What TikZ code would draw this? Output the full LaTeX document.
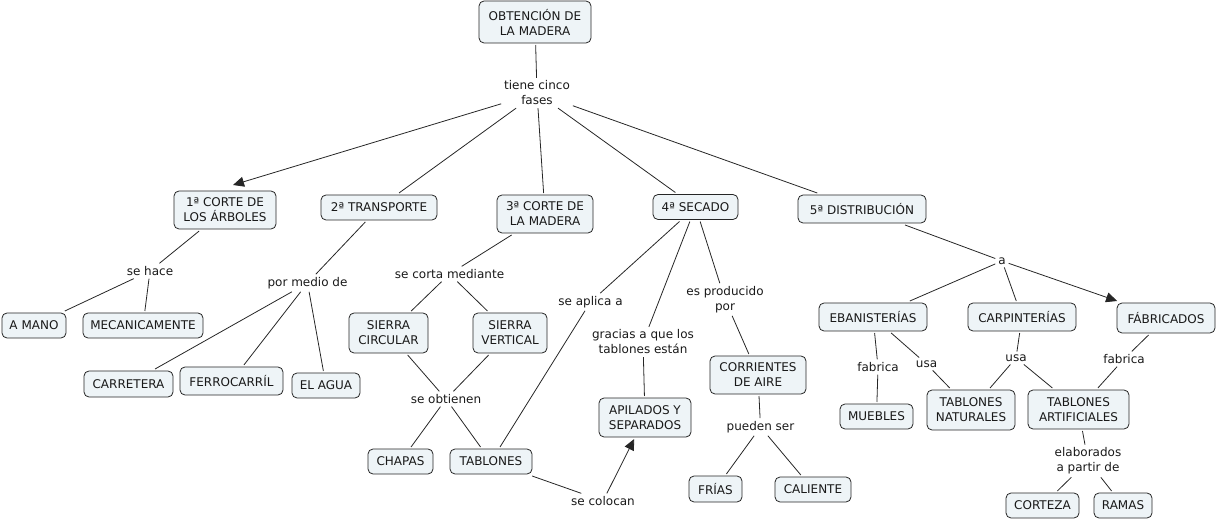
\documentclass[tikz,border=0pt]{standalone}
\usepackage{fontspec}
\setmainfont{DejaVu Sans}
\usetikzlibrary{arrows.meta}
\definecolor{boxfill}{RGB}{238,244,247}
\begin{document}
\begin{tikzpicture}[x=1pt,y=-1pt,
  every node/.style={font=\fontsize{12}{15}\selectfont, text=black!90},
  cbox/.style={draw=black!85, line width=0.8pt, fill=boxfill, rounded corners=5pt, inner sep=0pt, outer sep=2pt, align=center},
  lbl/.style={inner sep=2pt, outer sep=1pt, align=center},
  conn/.style={draw=black!85, line width=0.8pt},
  arr/.style={conn, -{Triangle[length=11pt,width=10pt]}}]
\useasboundingbox (0,0) rectangle (1216,521);
% concept boxes
\node[cbox, minimum width=112pt, minimum height=42pt] (n0) at (535,22) {OBTENCIÓN DE\\LA MADERA};
\node[cbox, minimum width=102pt, minimum height=38pt] (n1) at (225,210) {1ª CORTE DE\\LOS ÁRBOLES};
\node[cbox, minimum width=116pt, minimum height=25pt] (n2) at (379,207.5) {2ª TRANSPORTE};
\node[cbox, minimum width=96pt, minimum height=38pt] (n3) at (545,214) {3ª CORTE DE\\LA MADERA};
\node[cbox, minimum width=85pt, minimum height=25pt] (n4) at (695.5,207) {4ª SECADO};
\node[cbox, minimum width=128pt, minimum height=28pt] (n5) at (862,209) {5ª DISTRIBUCIÓN};
\node[cbox, minimum width=64pt, minimum height=25pt] (amano) at (34,325.5) {A MANO};
\node[cbox, minimum width=120pt, minimum height=25pt] (meca) at (143,325.5) {MECANICAMENTE};
\node[cbox, minimum width=89pt, minimum height=26pt] (carr) at (128.5,384) {CARRETERA};
\node[cbox, minimum width=103pt, minimum height=28pt] (ferro) at (231.5,381) {FERROCARRÍL};
\node[cbox, minimum width=68pt, minimum height=25pt] (agua) at (326,385.5) {EL AGUA};
\node[cbox, minimum width=79pt, minimum height=40pt] (scirc) at (388.5,333) {SIERRA\\CIRCULAR};
\node[cbox, minimum width=74pt, minimum height=40pt] (svert) at (510,333) {SIERRA\\VERTICAL};
\node[cbox, minimum width=65pt, minimum height=25pt] (chapas) at (400.5,461.5) {CHAPAS};
\node[cbox, minimum width=82pt, minimum height=25pt] (tabl) at (491,461.5) {TABLONES};
\node[cbox, minimum width=92pt, minimum height=39pt] (apil) at (645,417.5) {APILADOS Y\\SEPARADOS};
\node[cbox, minimum width=96pt, minimum height=38pt] (corr) at (758,375) {CORRIENTES\\DE AIRE};
\node[cbox, minimum width=53pt, minimum height=26pt] (frias) at (715.5,489) {FRÍAS};
\node[cbox, minimum width=76pt, minimum height=25pt] (cal) at (813,489.5) {CALIENTE};
\node[cbox, minimum width=108pt, minimum height=28pt] (eban) at (873,317) {EBANISTERÍAS};
\node[cbox, minimum width=108pt, minimum height=28pt] (carp) at (1022,317) {CARPINTERÍAS};
\node[cbox, minimum width=98pt, minimum height=30pt] (fabr) at (1166,318) {FÁBRICADOS};
\node[cbox, minimum width=73pt, minimum height=25pt] (mueb) at (876.5,416.5) {MUEBLES};
\node[cbox, minimum width=88pt, minimum height=40pt] (tnat) at (971,410) {TABLONES\\NATURALES};
\node[cbox, minimum width=101pt, minimum height=39pt] (tart) at (1078.5,409.5) {TABLONES\\ARTIFICIALES};
\node[cbox, minimum width=73pt, minimum height=25pt] (cort) at (1042.5,505.5) {CORTEZA};
\node[cbox, minimum width=58pt, minimum height=25pt] (ramas) at (1123,505.5) {RAMAS};
% linking phrases
\node[lbl] (l0) at (537,93) {tiene cinco\\fases};
\node[lbl] (l1) at (150,271) {se hace};
\node[lbl] (l2) at (307.5,283) {por medio de};
\node[lbl] (l3) at (449.5,274) {se corta mediante};
\node[lbl] (l4) at (446,399) {se obtienen};
\node[lbl] (l5) at (590.5,302) {se aplica a};
\node[lbl] (l6) at (643,342) {gracias a que los\\tablones están};
\node[lbl] (l7) at (725,299.5) {es producido\\por};
\node[lbl] (l8) at (603,501) {se colocan};
\node[lbl] (l9) at (760.5,427) {pueden ser};
\node[lbl] (l10) at (1002,261) {a};
\node[lbl] (l11) at (878,367) {fabrica};
\node[lbl] (l12) at (926.5,364) {usa};
\node[lbl] (l13) at (1016,358) {usa};
\node[lbl] (l14) at (1124,359) {fabrica};
\node[lbl] (l15) at (1088,461) {elaborados\\a partir de};
% connectors
\draw[conn] (n0) -- (l0);
\draw[arr] (l0) -- ([xshift=8pt,yshift=4pt]n1.north);
\draw[conn] (l0) -- (n2);
\draw[conn] (l0) -- (n3);
\draw[conn] (l0) -- (n4);
\draw[conn] (l0) -- (n5);
\draw[conn] (n1) -- (l1);
\draw[conn] (l1) -- (amano);
\draw[conn] (l1) -- (meca);
\draw[conn] (n2) -- (l2);
\draw[conn] (l2) -- (carr);
\draw[conn] (l2) -- (ferro);
\draw[conn] (l2) -- (agua);
\draw[conn] (n3) -- (l3);
\draw[conn] (l3) -- (scirc);
\draw[conn] (l3) -- (svert);
\draw[conn] (scirc) -- (l4);
\draw[conn] (svert) -- (l4);
\draw[conn] (l4) -- (chapas);
\draw[conn] (l4) -- (tabl);
\draw[conn] (n4) -- (l5);
\draw[conn] (l5) -- (tabl);
\draw[conn] (n4) -- (l6);
\draw[conn] (l6) -- (apil);
\draw[conn] (n4) -- (l7);
\draw[conn] (l7) -- (corr);
\draw[conn] (tabl) -- (l8);
\draw[arr] (l8) -- (apil);
\draw[conn] (corr) -- (l9);
\draw[conn] (l9) -- (frias);
\draw[conn] (l9) -- (cal);
\draw[conn] (n5) -- (l10);
\draw[conn] (l10) -- (eban);
\draw[conn] (l10) -- (carp);
\draw[arr] (l10) -- (fabr);
\draw[conn] (eban) -- (l11);
\draw[conn] (l11) -- (mueb);
\draw[conn] (eban) -- (l12);
\draw[conn] (l12) -- (tnat);
\draw[conn] (carp) -- (l13);
\draw[conn] (l13) -- (tnat);
\draw[conn] (l13) -- (tart);
\draw[conn] (fabr) -- (l14);
\draw[conn] (l14) -- (tart);
\draw[conn] (tart) -- (l15);
\draw[conn] (l15) -- (cort);
\draw[conn] (l15) -- (ramas);
\end{tikzpicture}
\end{document}
